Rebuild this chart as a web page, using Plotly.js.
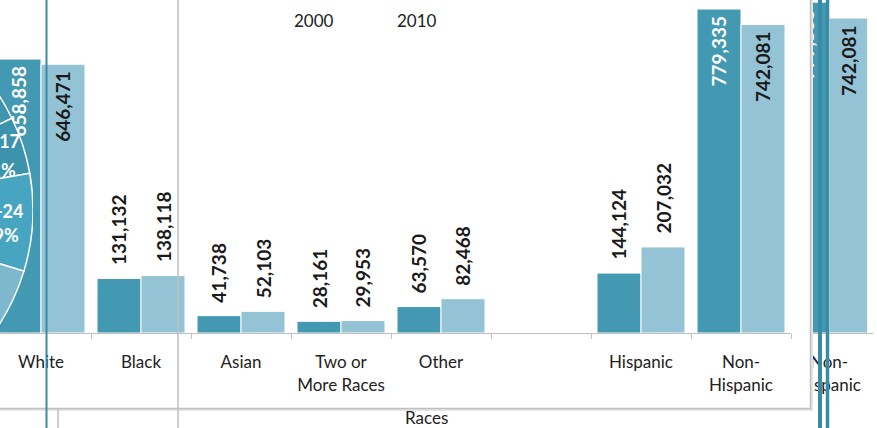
<!DOCTYPE html>
<html><head><meta charset="utf-8">
<script src="https://cdn.plot.ly/plotly-3.0.1.min.js"></script>
<style>
html,body{margin:0;padding:0;overflow:hidden;background:#fff;}
#wrap{position:relative;width:877px;height:428px;overflow:hidden;}
.layer{position:absolute;top:0;}
</style></head><body>
<div id="wrap">
<div id="back" class="layer" style="left:0;width:877px;height:428px"></div>
<div id="main" class="layer" style="left:0;width:877px;height:428px"></div>
<div id="pie" class="layer" style="left:-387px;width:420px;height:420px"></div>
</div>
<script>
// ---- data ----
const categories = ["White", "Black", "Asian", "Two or<br>More Races", "Other", " ", "Hispanic", "Non-<br>Hispanic"];
const pop2000 = [658858, 131132, 41738, 28161, 63570, null, 144124, 779335];
const pop2010 = [646471, 138118, 52103, 29953, 82468, null, 207032, 742081];
const seriesNames = ["2000", "2010"];
const axisTitle = "Races";
// partial age pie visible at the left edge (shares)
const pieGroups = ["Under 5", "5-17", "18-24", "25-44", "45-64", "65+"];
const pieShares = [17.8, 4.4, 7.5, 17.5, 30.0, 22.8];
const pieTexts = [["5-17", "21%"], ["18-24", "19%"]];

// ---- style ----
const FONT = 'Lato, "Open Sans", sans-serif';
const DARK = '#4399B1', LIGHT = '#93C3D5', TEAL = '#3A8CA6', GRID = '#BFBFBF';
const INSIDE_MIN = 400000;
const fmt = v => v.toLocaleString('en-US');

function barTrace(vals, name, color, xa, ya) {
  return {type: 'bar', x: categories, y: vals, name: name, xaxis: xa, yaxis: ya,
    marker: {color: color, line: {color: '#ffffff', width: 1}}, hoverinfo: 'none'};
}
function labelAnns(vals, shift, insideColor, xr, yr, size, firstIdx) {
  const out = [];
  vals.forEach((v, i) => {
    if (v === null || i < (firstIdx || 0)) return;
    const inside = v > INSIDE_MIN;
    out.push({xref: xr, yref: yr, x: categories[i], y: v, text: fmt(v), textangle: -90,
      showarrow: false, xshift: shift, yshift: inside ? -5 : 11,
      yanchor: inside ? 'top' : 'bottom', xanchor: 'center',
      font: {family: FONT, size: size, color: inside ? insideColor : '#1a1a1a', weight: 'bold'}});
  });
  return out;
}
function xAxis(domain, range) {
  return {domain: domain, range: range, type: 'category', tickson: 'boundaries', ticks: 'outside',
    ticklen: 5, tickcolor: GRID, showline: true, linecolor: GRID, linewidth: 1, showgrid: false,
    zeroline: false, tickangle: 0, tickfont: {family: FONT, size: 17, color: '#222'}, ticklabelstandoff: 14,
    fixedrange: true};
}
const cfg = {staticPlot: true, displayModeBar: false};

// ---- back (partially hidden second chart: only its last category shows) ----
const lastIdx = categories.length - 1;
Plotly.newPlot('back', [
  barTrace(pop2000, seriesNames[0], DARK, 'x', 'y'),
  barTrace(pop2010, seriesNames[1], LIGHT, 'x', 'y')
], {
  width: 877, height: 428, margin: {l: 0, r: 0, t: 0, b: 0},
  paper_bgcolor: '#ffffff', plot_bgcolor: 'rgba(0,0,0,0)', showlegend: false,
  barmode: 'group', bargap: 0.12, bargroupgap: 0,
  xaxis: xAxis([785 / 877, 873 / 877], [lastIdx - 0.5, lastIdx + 0.5]),
  yaxis: {domain: [95 / 428, 1], range: [0, 784476], visible: false, fixedrange: true},
  annotations: labelAnns(pop2000, -22, '#ffffff', 'x', 'y', 19, lastIdx)
    .concat(labelAnns(pop2010, 19.5, '#1a1a1a', 'x', 'y', 19, lastIdx))
    .concat([{xref: 'paper', yref: 'paper', x: 426 / 877, y: 1 - 417 / 428, text: axisTitle,
      showarrow: false, xanchor: 'center', yanchor: 'middle', font: {family: FONT, size: 17, color: '#222'}}]),
  shapes: [
    {type: 'line', xref: 'paper', yref: 'paper', x0: 820 / 877, x1: 820 / 877, y0: 0, y1: 1, line: {color: TEAL, width: 4}, layer: 'above'},
    {type: 'line', xref: 'paper', yref: 'paper', x0: 827.5 / 877, x1: 827.5 / 877, y0: 0, y1: 1, line: {color: TEAL, width: 3.5}, layer: 'above'}
  ]
}, cfg);

// ---- main chart ----
Plotly.newPlot('main', [
  barTrace(pop2000, seriesNames[0], DARK, 'x', 'y'),
  barTrace(pop2010, seriesNames[1], LIGHT, 'x', 'y')
], {
  width: 877, height: 428, margin: {l: 0, r: 0, t: 0, b: 0},
  paper_bgcolor: 'rgba(0,0,0,0)', plot_bgcolor: 'rgba(0,0,0,0)', showlegend: false,
  barmode: 'group', bargap: 0.12, bargroupgap: 0,
  xaxis: xAxis([0, 791 / 877], [-0.41, 7.5]),
  yaxis: {domain: [95 / 428, 1], range: [0, 801000], visible: false, fixedrange: true},
  annotations: labelAnns(pop2000, -22, '#ffffff', 'x', 'y', 19)
    .concat(labelAnns(pop2010, 22, '#1a1a1a', 'x', 'y', 19))
    .concat([
      {xref: 'paper', yref: 'paper', x: 314 / 877, y: 1 - 20 / 428, text: seriesNames[0], showarrow: false,
        xanchor: 'center', yanchor: 'middle', font: {family: FONT, size: 17, color: '#222'}},
      {xref: 'paper', yref: 'paper', x: 417 / 877, y: 1 - 20 / 428, text: seriesNames[1], showarrow: false,
        xanchor: 'center', yanchor: 'middle', font: {family: FONT, size: 17, color: '#222'}}
    ]),
  shapes: [
    {type: 'rect', xref: 'paper', yref: 'paper', x0: -0.02, x1: 813 / 877, y0: 1 - 411 / 428, y1: 1.02,
      fillcolor: '#E6E6E6', line: {width: 0}, layer: 'below'},
    {type: 'rect', xref: 'paper', yref: 'paper', x0: -0.02, x1: 810.5 / 877, y0: 1 - 408.5 / 428, y1: 1.02,
      fillcolor: '#ffffff', line: {color: GRID, width: 1.5}, layer: 'below'},
    {type: 'line', xref: 'paper', yref: 'paper', x0: 178 / 877, x1: 178 / 877, y0: 0, y1: 1, line: {color: GRID, width: 1.5}, layer: 'above'},
    {type: 'line', xref: 'paper', yref: 'paper', x0: 58 / 877, x1: 58 / 877, y0: 0, y1: 1 - 408.5 / 428, line: {color: GRID, width: 1.5}, layer: 'above'},
    {type: 'line', xref: 'paper', yref: 'paper', x0: 46.5 / 877, x1: 46.5 / 877, y0: 0, y1: 1, line: {color: TEAL, width: 2}, layer: 'above'}
  ]
}, cfg);

// ---- pie fragment ----
const P = 420, OFF = 387;
const pieAnn = (t, right, yc) => ({xref: 'paper', yref: 'paper', x: (right + OFF) / P, y: 1 - yc / P, text: t,
  showarrow: false, xanchor: 'right', yanchor: 'middle', font: {family: FONT, size: 18, color: '#ffffff', weight: 'bold'}});
Plotly.newPlot('pie', [{
  type: 'pie', values: pieShares, labels: pieGroups, sort: false, direction: 'clockwise', rotation: 0,
  textinfo: 'none', hoverinfo: 'none', domain: {x: [0, 1], y: [0, 1]},
  marker: {colors: ['#3F95AE', '#3D92AC', '#48A5C2', '#7DB8CD', '#9BC9D9', '#2F7F98'], line: {color: '#ffffff', width: 1.5}}
}], {
  width: P, height: P, margin: {l: 0, r: 0, t: 0, b: 0}, paper_bgcolor: 'rgba(0,0,0,0)', showlegend: false,
  annotations: [pieAnn(pieTexts[0][0], 21.5, 141), pieAnn(pieTexts[0][1], 17.5, 170),
    pieAnn(pieTexts[1][0], 24.5, 211), pieAnn(pieTexts[1][1], 20.5, 235)]
}, cfg);
</script>
</body></html>
